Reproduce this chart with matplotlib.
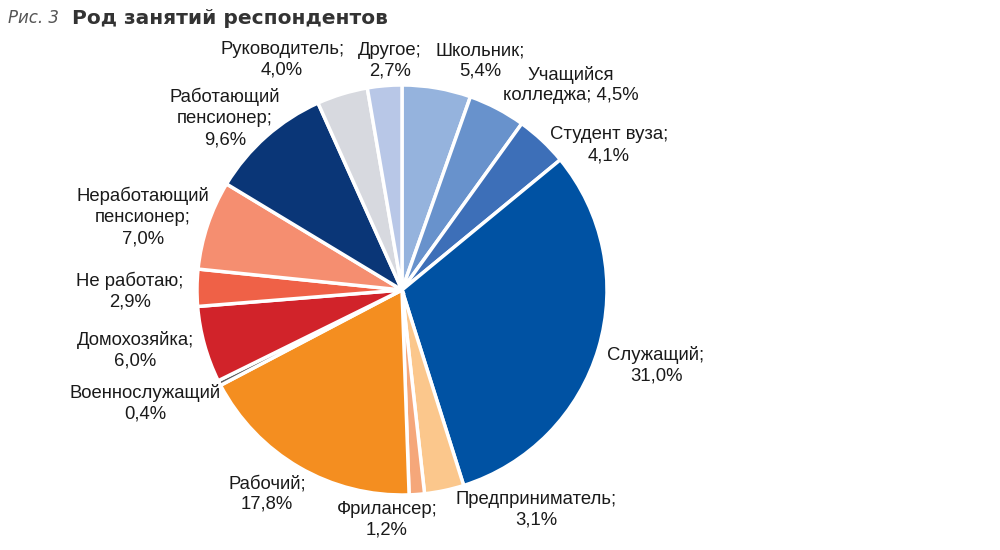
import matplotlib.pyplot as plt

# Data
labels = ["Школьник;\n5,4%", "Учащийся\nколледжа; 4,5%", "Студент вуза;\n4,1%",
          "Служащий;\n31,0%", "Предприниматель;\n3,1%", "Фрилансер;\n1,2%",
          "Рабочий;\n17,8%", "Военнослужащий\n0,4%", "Домохозяйка;\n6,0%",
          "Не работаю;\n2,9%", "Неработающий\nпенсионер;\n7,0%",
          "Работающий\nпенсионер;\n9,6%", "Руководитель;\n4,0%", "Другое;\n2,7%"]
values = [5.4, 4.5, 4.1, 31.0, 3.1, 1.2, 17.8, 0.4, 6.0, 2.9, 7.0, 9.6, 4.0, 2.7]
colors = ["#95b3dd", "#6892cc", "#3d6fb8", "#0052a3", "#fbc78c", "#f5a77a",
          "#f48e20", "#5a5a5a", "#d1232a", "#ef6147", "#f58e70", "#0a3677",
          "#d7d9df", "#b8c7e7"]

# label positions in pie units (radius = 1)
label_pos = [(0.38, 1.117), (0.825, 1.0), (1.01, 0.707), (1.239, -0.366),
             (0.654, -1.073), (-0.073, -1.122), (-0.659, -0.995), (-1.254, -0.551),
             (-1.302, -0.293), (-1.327, -0.005), (-1.263, 0.356), (-0.863, 0.839),
             (-0.585, 1.122), (-0.059, 1.117)]

plt.rcParams['font.family'] = ['Liberation Sans', 'DejaVu Sans']

fig = plt.figure(figsize=(10, 5.5), dpi=100)
ax = fig.add_axes([(402 - 205) / 1000, (550 - 495) / 550, 410 / 1000, 410 / 550])

ax.pie(values, colors=colors, startangle=90, counterclock=False, radius=1,
       wedgeprops=dict(edgecolor="white", linewidth=2.5))
ax.set_xlim(-1, 1)
ax.set_ylim(-1, 1)
ax.set_aspect("equal")
ax.axis("off")

for lab, (x, y) in zip(labels, label_pos):
    ax.text(x, y, lab, ha="center", va="center", fontsize=13.3,
            color="#1a1a1a", linespacing=1.3, clip_on=False)

# Title
fig.text(0.008, 0.967, "Рис. 3", fontsize=12, style="italic", color="#555555",
         family="DejaVu Sans", va="center")
fig.text(0.072, 0.967, "Род занятий респондентов", fontsize=14.5, weight="bold",
         color="#333333", family="DejaVu Sans", va="center")

fig.savefig("out.png", dpi=100)
